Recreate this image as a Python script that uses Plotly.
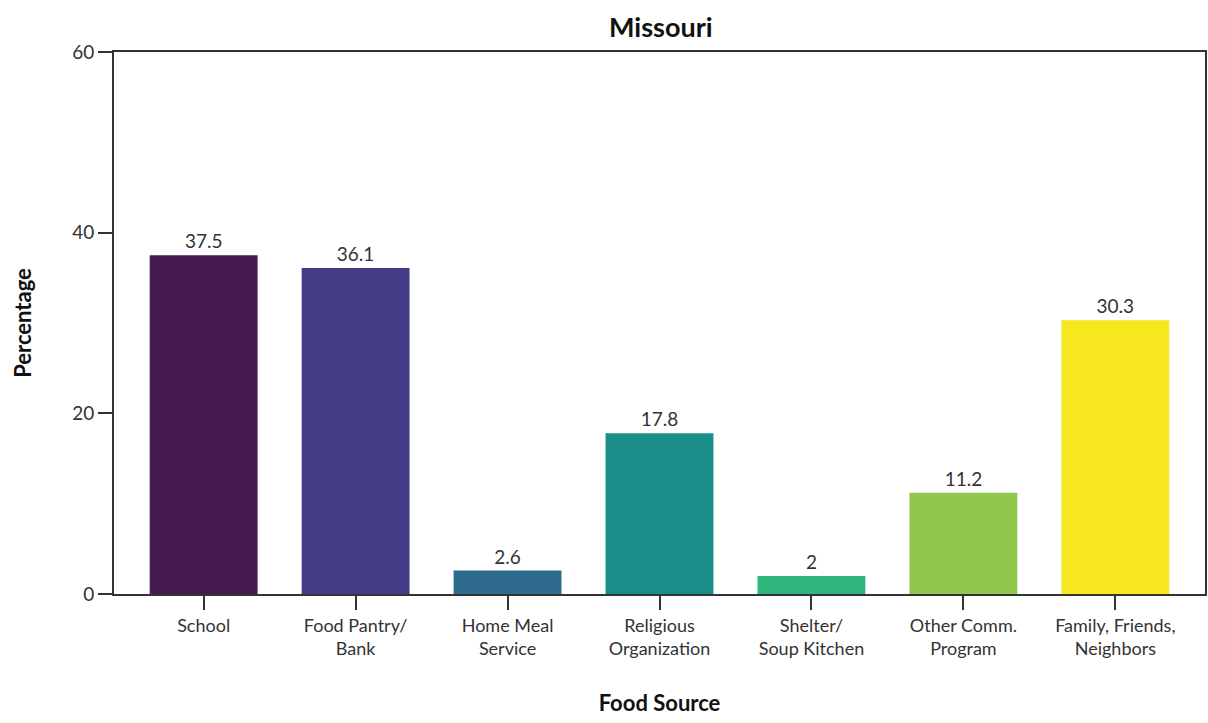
import plotly.graph_objects as go

categories = ["School", "Food Pantry/<br>Bank", "Home Meal<br>Service", "Religious<br>Organization",
              "Shelter/<br>Soup Kitchen", "Other Comm.<br>Program", "Family, Friends,<br>Neighbors"]
values = [37.5, 36.1, 2.6, 17.8, 2, 11.2, 30.3]
labels = ["37.5", "36.1", "2.6", "17.8", "2", "11.2", "30.3"]
colors = ["#461b4f", "#433b85", "#2d6a8e", "#1a8f89", "#2db57b", "#8fc84c", "#f6e71f"]
y_ticks = [0, 20, 40, 60]

fig = go.Figure(go.Bar(
    x=list(range(len(categories))),
    y=values,
    text=labels,
    textposition="outside",
    textfont=dict(family="Lato", size=19, color="#333333"),
    marker=dict(color=colors, line=dict(width=0)),
    width=0.71,
    cliponaxis=False,
))

axis_font = dict(family="Lato", size=18, color="#333333")
title_font = dict(family="Lato", size=22, color="#111111")

fig.update_layout(
    width=1208, height=723,
    margin=dict(l=114, r=1, t=52, b=129),
    paper_bgcolor="white", plot_bgcolor="white",
    showlegend=False,
    title=dict(text="<b>Missouri</b>", x=0.547, xanchor="center", y=0.962, yanchor="middle",
               font=dict(family="Lato", size=27, color="#111111")),
    xaxis=dict(
        range=[-0.59, 6.59],
        tickmode="array",
        tickvals=list(range(len(categories))),
        ticktext=categories,
        ticks="outside", ticklen=14, tickwidth=2, tickcolor="#333333",
        showline=True, linecolor="#333333", linewidth=2, mirror=True,
        showgrid=False, zeroline=False,
        tickfont=axis_font,
        title=dict(text="<b>Food Source</b>", font=title_font, standoff=38),
    ),
    yaxis=dict(
        range=[0, 60],
        tickmode="array",
        tickvals=y_ticks,
        ticks="outside", ticklen=14, tickwidth=2, tickcolor="#333333",
        showline=True, linecolor="#333333", linewidth=2, mirror=True,
        showgrid=False, zeroline=False,
        tickfont=dict(family="Lato", size=19, color="#333333"),
        title=dict(text="<b>Percentage</b>", font=title_font, standoff=34),
    ),
)

fig.write_html("out.html")
